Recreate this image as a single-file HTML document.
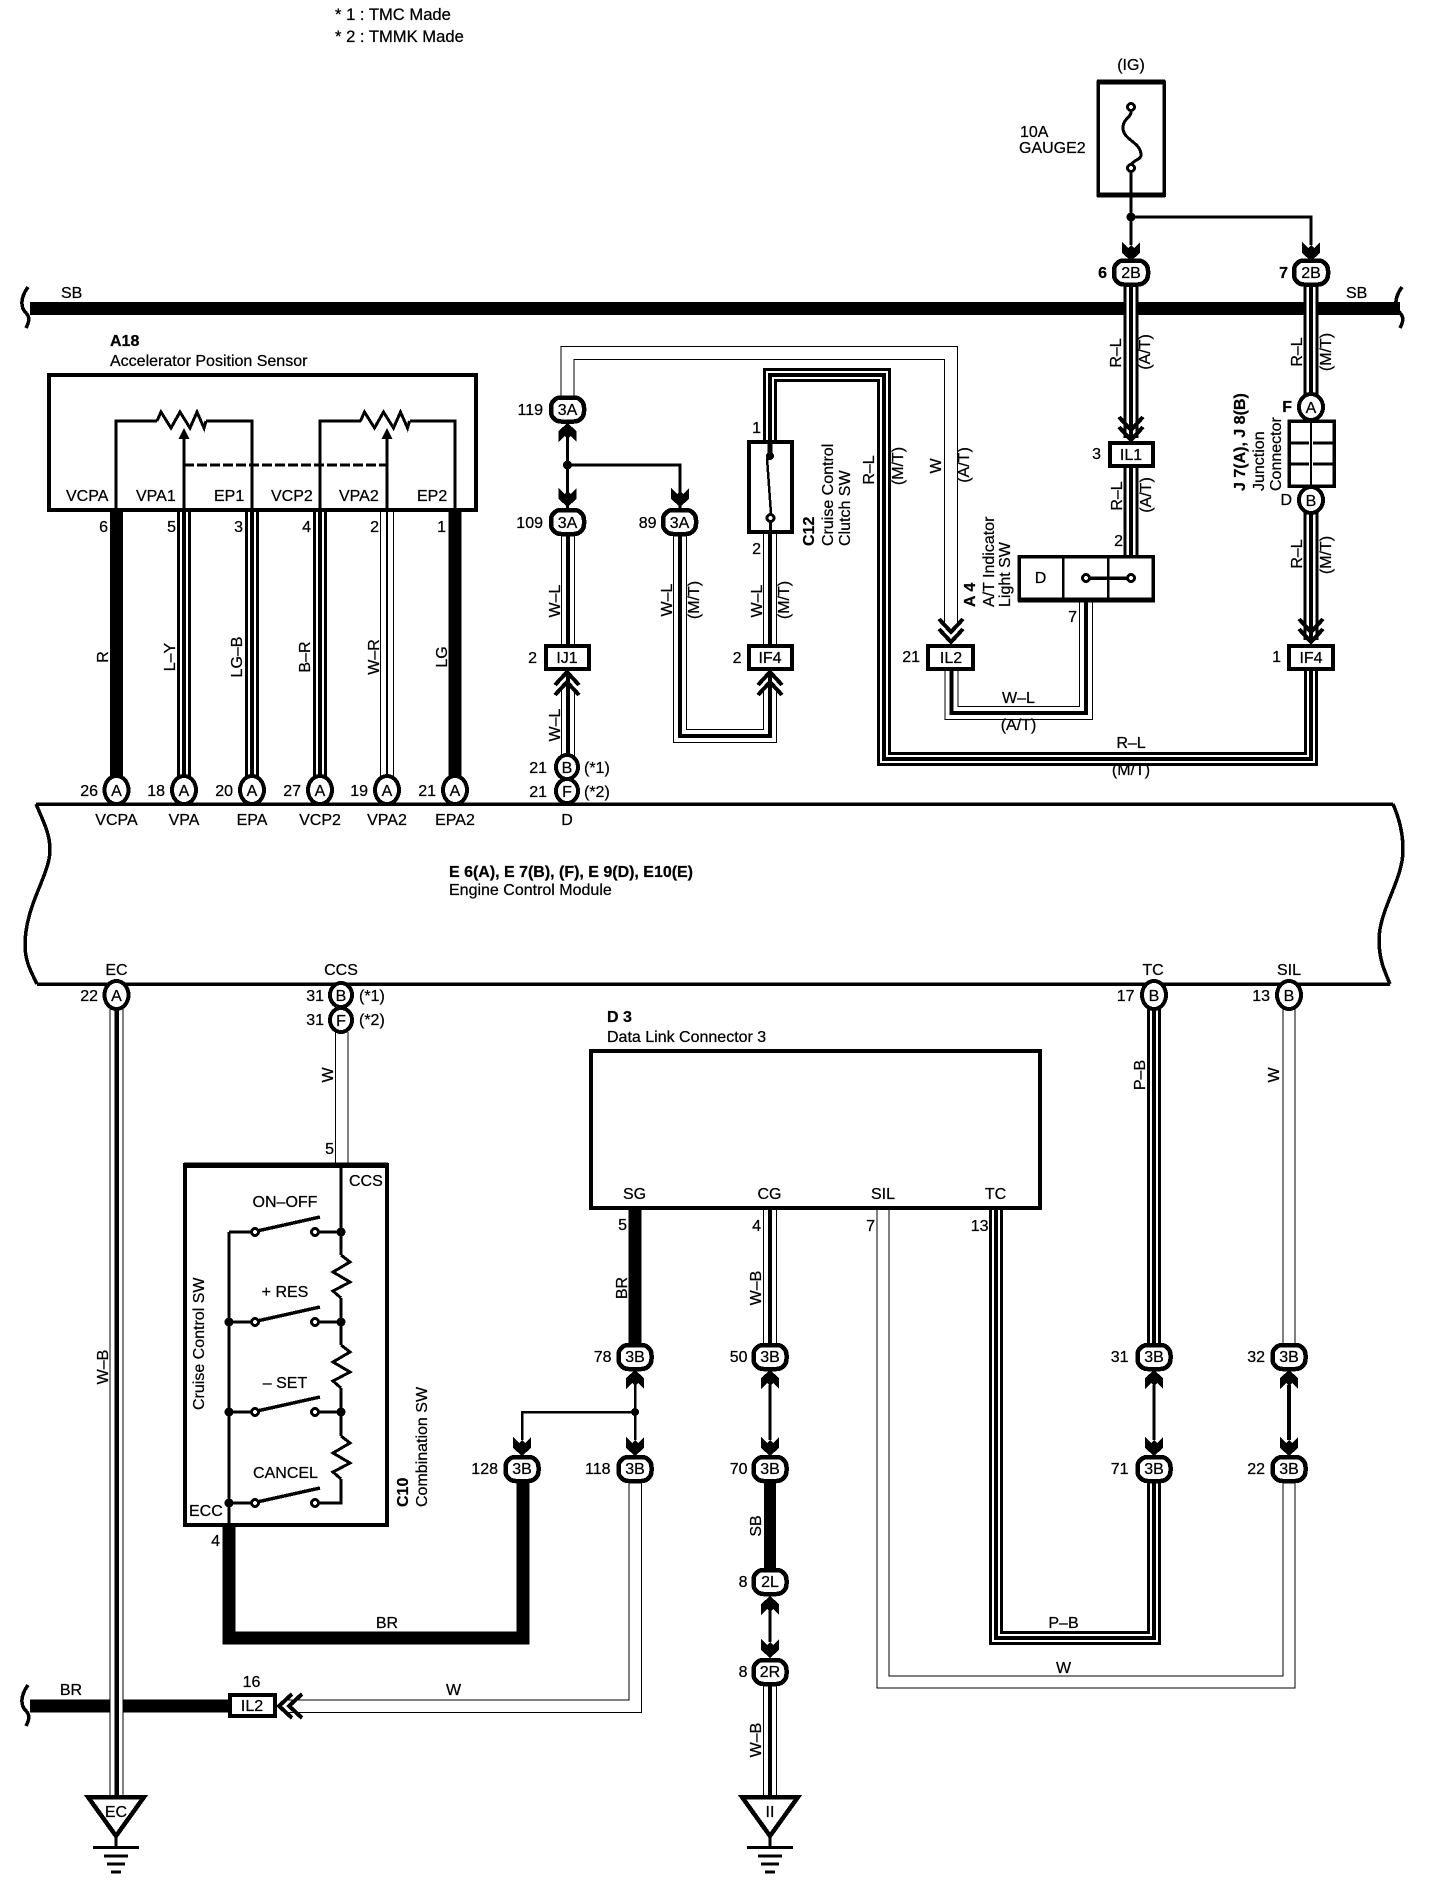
<!DOCTYPE html>
<html><head><meta charset="utf-8"><title>Cruise Control Wiring Diagram</title>
<style>
html,body{margin:0;padding:0;background:#fff;width:1440px;height:1894px;overflow:hidden}
svg{display:block;shape-rendering:crispEdges}
text{font-family:"Liberation Sans",sans-serif;font-size:16px;fill:#000;stroke:#000;stroke-width:.25px}
.b{font-weight:bold}
.c{text-anchor:middle}
.r{text-anchor:end}
.n{font-size:16.6px}
</style></head><body>
<svg xmlns="http://www.w3.org/2000/svg" width="1440" height="1894" viewBox="0 0 1440 1894">
<defs>
<polygon id="aD" points="0,0 -9,-8 -9,-19 -3,-13 0,-16 3,-13 9,-19 9,-8" fill="#000" stroke="none"/>
<polygon id="aU" points="0,0 -9,8 -9,19 -3,13 0,16 3,13 9,19 9,8" fill="#000" stroke="none"/>
<g id="cD" fill="none" stroke="#000" stroke-width="4"><polyline points="-12,-13 0,0 12,-13"/><polyline points="-12,-23 0,-10 12,-23"/></g>
<g id="cU" fill="none" stroke="#000" stroke-width="4"><polyline points="-12,13 0,0 12,13"/><polyline points="-12,23 0,10 12,23"/></g>
<g id="gnd" fill="none" stroke="#000">
<polygon points="-28,-41 28,-41 0,-2" fill="#fff" stroke-width="4.5"/>
<path d="M0,0V9" stroke-width="3"/><path d="M-23,9.5H23" stroke-width="3"/><path d="M-12,18H12" stroke-width="3"/><path d="M-9,26H9" stroke-width="3"/><path d="M-5,34H5" stroke-width="3"/>
</g>
<g id="sw" stroke="#000" fill="none">
<path d="M-26,0H0" stroke-width="3"/><path d="M60,0H86" stroke-width="3"/>
<path d="M2,-1L65,-15" stroke-width="3.5"/>
<circle r="3.5" fill="#fff" stroke-width="3"/><circle cx="60" r="3.5" fill="#fff" stroke-width="3"/>
</g>
<polyline id="zz" points="341,1255 350,1262 333,1272 350,1282 333,1291 341,1298" fill="none" stroke="#000" stroke-width="3"/>
<polyline id="rz" points="157,421 161,412 171,428 180,412 190,428 197,412 204,428 206,421" fill="none" stroke="#000" stroke-width="3"/>
<path id="br" d="M28,287C20,298 20,308 27,314C30,318 29,322 26,328" fill="none" stroke="#000" stroke-width="3.5"/>
</defs>

<!-- harness bars -->
<g fill="none" stroke="#000">
<path d="M30,308.500H1400" stroke-width="13"/>
<path d="M30,1706H230" stroke-width="13"/>
<use href="#br"/><use href="#br" transform="translate(1374,0)"/>
<use href="#br" transform="translate(0,1398)"/>

<!-- ECM -->
<path d="M36,804H1393M37,984H1390" stroke-width="3.500"/>
<path d="M36,804C45,825 50,835 50,850C50,875 25,905 25,945C25,960 30,970 37,984" stroke-width="3.500"/>
<path d="M1393,804C1400,820 1403,835 1403,850C1403,880 1379,910 1379,940C1379,960 1385,972 1390,984" stroke-width="3.500"/>

<!-- A18 wires -->
<path d="M116.500,510V776" stroke-width="13"/>
<path d="M455,510V776" stroke-width="13"/>
<path d="M184,510V776M252,510V776M320,510V776" stroke-width="14"/>
<path d="M184,510V776M252,510V776M320,510V776" stroke="#fff" stroke-width="8"/>
<path d="M184,510V776M252,510V776M320,510V776" stroke-width="4"/>
<path d="M387,510V776" stroke-width="14"/><path d="M387,510V776" stroke="#fff" stroke-width="12"/><path d="M387,510V776" stroke-width="2"/>

<!-- Top white W wire -->
<path d="M567.500,398V353H951V625" stroke-width="14"/><path d="M567.500,398V353H951V625" stroke="#fff" stroke-width="12"/>

<!-- W-L verticals -->
<path d="M568,535V644M568,688V756" stroke-width="14"/><path d="M568,535V644M568,688V756" stroke="#fff" stroke-width="12"/><path d="M568,535V644M568,672V756" stroke-width="4"/>
<path d="M680,535V736H770V688" stroke-width="14"/><path d="M680,535V736H770V688" stroke="#fff" stroke-width="12"/><path d="M680,535V736H770V672" stroke-width="4"/>
<path d="M770,532V646" stroke-width="14"/><path d="M770,532V646" stroke="#fff" stroke-width="12"/><path d="M770,532V646" stroke-width="4"/>
<path d="M951.500,670V713H1086V600" stroke-width="14"/><path d="M951.500,670V713H1086V600" stroke="#fff" stroke-width="12"/><path d="M951.500,670V713H1086V600" stroke-width="4"/>

<!-- R-L wires -->
<path d="M770,442V375H884V759H1311V670" stroke-width="14"/><path d="M770,442V375H884V759H1311V670" stroke="#fff" stroke-width="8"/><path d="M770,442V375H884V759H1311V670" stroke-width="4"/>
<path d="M1131,285V438M1131,467V556M1311,285V395M1311,513V640" stroke-width="15"/><path d="M1131,285V438M1131,467V556M1311,285V395M1311,513V640" stroke="#fff" stroke-width="9"/><path d="M1131,285V438M1131,467V556M1311,285V395M1311,513V640" stroke-width="4"/>

<!-- Fuse branch -->
<path d="M1131,172V245M1131,217H1311V245" stroke-width="3"/>

<!-- stems -->
<path d="M567.500,425V508M567.500,465H680V508" stroke-width="3"/>
<path d="M635,1385V1440M635,1412H522V1440" stroke-width="2.500"/>
<path d="M770,1385V1440M770,1610V1642" stroke-width="3"/>
<path d="M1154,1385V1440" stroke-width="3"/>
<path d="M1289,1385V1440" stroke-width="4"/>

<!-- Lower wires -->
<path d="M116.500,1008V1797" stroke-width="14"/><path d="M116.500,1008V1797" stroke="#fff" stroke-width="12"/><path d="M116.500,1008V1797" stroke-width="4.500"/>
<path d="M341.500,1032V1164" stroke-width="13.500"/><path d="M341.500,1032V1164" stroke="#fff" stroke-width="11.500"/>
<path d="M229,1526V1638H523V1482" stroke-width="13"/>
<path d="M635,1208V1345" stroke-width="13"/>
<path d="M770,1208V1345M770,1684V1797" stroke-width="14"/><path d="M770,1208V1345M770,1684V1797" stroke="#fff" stroke-width="12"/><path d="M770,1208V1345M770,1684V1797" stroke-width="4"/>
<path d="M770,1482V1570" stroke-width="12"/>
<path d="M883,1209V1682H1289V1482" stroke-width="13"/><path d="M883,1209V1682H1289V1482" stroke="#fff" stroke-width="11"/>
<path d="M1289,1008V1345" stroke-width="13"/><path d="M1289,1008V1345" stroke="#fff" stroke-width="11"/>
<path d="M996,1209V1638H1154V1482M1154,1008V1345" stroke-width="14"/><path d="M996,1209V1638H1154V1482M1154,1008V1345" stroke="#fff" stroke-width="8"/><path d="M996,1209V1638H1154V1482M1154,1008V1345" stroke-width="4"/>
<path d="M635,1481V1706H285" stroke-width="13.500"/><path d="M635,1481V1706H285" stroke="#fff" stroke-width="11.500"/>
<!-- W-B crossing the BR bus -->
<path d="M116.500,1680V1740" stroke-width="14"/><path d="M116.500,1680V1740" stroke="#fff" stroke-width="12"/><path d="M116.500,1680V1740" stroke-width="4.500"/>

<!-- A18 box -->
<rect x="49" y="375" width="427" height="135" stroke-width="4"/>
<path d="M116,510V421H157M206,421H252V510M320,510V421H361M410,421H455V510" stroke-width="3"/>
<path d="M184,510V436M387,510V436" stroke-width="3"/>
<use href="#rz"/><use href="#rz" transform="translate(203.500,0)"/>
<polygon points="184,428 178.500,439 189.500,439" fill="#000" stroke="none"/><polygon points="387,428 381.500,439 392.500,439" fill="#000" stroke="none"/>
<path d="M184,465H387" stroke-width="3" stroke-dasharray="10 3"/>

<!-- Fuse -->
<rect x="1098" y="82" width="66" height="113" fill="#fff" stroke-width="3.500"/>
<path d="M1097,82H1165M1097,195H1165" stroke-width="5"/>
<path d="M1131,112C1131,118 1123,118 1123,128C1123,140 1141,142 1141,155C1141,160 1133,160 1131,165" stroke-width="3"/>
<circle cx="1131" cy="107" r="3.500" fill="#fff" stroke-width="3"/><circle cx="1131" cy="168" r="3.500" fill="#fff" stroke-width="3"/>
<path d="M1131,172V197" stroke-width="3"/>

<!-- Clutch SW -->
<rect x="749" y="442" width="43" height="90" fill="#fff" stroke-width="4"/>
<path d="M770,442V454" stroke-width="5"/>
<circle cx="770" cy="456" r="4" fill="#000" stroke="none"/>
<path d="M767,458L771,514" stroke-width="2.500"/>
<circle cx="770.500" cy="518" r="3.500" fill="#fff" stroke-width="3"/>
<path d="M770.500,522V532" stroke-width="3"/>

<!-- A/T switch -->
<rect x="1019" y="556.500" width="134" height="43" fill="#fff" stroke-width="3.500"/>
<path d="M1018,600H1155" stroke-width="5"/>
<path d="M1063,557V598M1108,557V598" stroke-width="2.500"/>
<path d="M1086,578H1131" stroke-width="3.500"/>
<circle cx="1086" cy="578" r="3.500" fill="#fff" stroke-width="3"/><circle cx="1131" cy="578" r="3.500" fill="#fff" stroke-width="3"/>

<!-- Small boxes -->
<g fill="#fff" stroke-width="4">
<rect x="546" y="646" width="43" height="23"/>
<rect x="749" y="646" width="43" height="23"/>
<rect x="928" y="646" width="45" height="23"/>
<rect x="1289" y="646" width="44" height="23"/>
<rect x="1110" y="443" width="43" height="23"/>
<rect x="230" y="1695" width="45" height="21"/>
<rect x="1289" y="421" width="45" height="65" stroke-width="3.500"/>
</g>
<path d="M1311,421V486" stroke-width="2"/>
<path d="M1289,443H1309M1313,443H1334M1289,464H1309M1313,464H1334" stroke-width="3"/>

<!-- Combination SW box -->
<rect x="185" y="1165" width="202" height="360" fill="#fff" stroke-width="4"/>
<path d="M184,1165H388" stroke-width="5.500"/>
<path d="M341,1165V1255M341,1298V1345M341,1388V1436M341,1479V1503H315M229,1232V1526" stroke-width="3"/>
<use href="#zz"/><use href="#zz" transform="translate(0,90)"/><use href="#zz" transform="translate(0,181)"/>
<use href="#sw" transform="translate(255,1232)"/>
<use href="#sw" transform="translate(255,1322)"/>
<use href="#sw" transform="translate(255,1412)"/>
<use href="#sw" transform="translate(255,1503)"/>
<g fill="#000" stroke="none">
<circle cx="341" cy="1232" r="4.500"/><circle cx="341" cy="1322" r="4.500"/><circle cx="341" cy="1412" r="4.500"/>
<circle cx="229" cy="1322" r="4.500"/><circle cx="229" cy="1412" r="4.500"/><circle cx="229" cy="1503" r="4.500"/>
<circle cx="567.500" cy="465" r="4.500"/><circle cx="1131" cy="217" r="4.500"/><circle cx="635" cy="1412" r="4"/>
</g>

<!-- D3 box -->
<rect x="591" y="1051" width="449" height="157" fill="#fff" stroke-width="4"/>

<!-- grounds -->
<use href="#gnd" transform="translate(116,1838)"/>
<use href="#gnd" transform="translate(770,1838)"/>

<!-- Arrowheads -->
<use href="#aD" transform="translate(1131,261)"/><use href="#aD" transform="translate(1311,261)"/>
<use href="#aU" transform="translate(567.500,423)"/>
<use href="#aD" transform="translate(567.500,507)"/><use href="#aD" transform="translate(680,507)"/>
<use href="#aU" transform="translate(635,1370)"/><use href="#aU" transform="translate(770,1370)"/><use href="#aU" transform="translate(1154,1370)"/><use href="#aU" transform="translate(1289,1370)"/>
<use href="#aD" transform="translate(522,1456)"/><use href="#aD" transform="translate(635,1456)"/><use href="#aD" transform="translate(770,1456)"/><use href="#aD" transform="translate(1154,1456)"/><use href="#aD" transform="translate(1289,1456)"/>
<use href="#aU" transform="translate(770,1596)"/><use href="#aD" transform="translate(770,1658)"/>
<use href="#cD" transform="translate(1131,440)"/><use href="#cD" transform="translate(951,642)"/><use href="#cD" transform="translate(1311,642)"/>
<use href="#cU" transform="translate(567,672)"/><use href="#cU" transform="translate(770,672)"/>
<use href="#cU" transform="translate(279,1706) rotate(-90)"/>

<!-- circular connectors -->
<g fill="#fff" stroke-width="4">
<ellipse cx="116.500" cy="790" rx="12" ry="14"/><ellipse cx="184" cy="790" rx="12" ry="14"/><ellipse cx="252" cy="790" rx="12" ry="14"/><ellipse cx="320" cy="790" rx="12" ry="14"/><ellipse cx="387" cy="790" rx="12" ry="14"/><ellipse cx="455" cy="790" rx="12" ry="14"/>
<ellipse cx="567" cy="767" rx="11" ry="12"/><ellipse cx="567" cy="791" rx="11" ry="12"/>
<ellipse cx="116.500" cy="995" rx="12" ry="14"/><ellipse cx="341" cy="995" rx="11" ry="12"/><ellipse cx="341" cy="1020" rx="11" ry="12"/>
<ellipse cx="1154" cy="995" rx="12" ry="14"/><ellipse cx="1289" cy="995" rx="12" ry="14"/>
<ellipse cx="1311" cy="407" rx="12" ry="13"/><ellipse cx="1311" cy="500" rx="12" ry="13"/>
</g>
<!-- stadium connectors -->
<g fill="#fff" stroke-width="4.500">
<rect x="1114" y="260.500" width="34" height="24" rx="10"/><rect x="1294" y="260.500" width="34" height="24" rx="10"/>
<rect x="551" y="397.500" width="33" height="24" rx="10"/><rect x="551" y="510" width="33" height="24" rx="10"/><rect x="663" y="510" width="33" height="24" rx="10"/>
<rect x="618.500" y="1345" width="33" height="24" rx="10"/><rect x="753.500" y="1345" width="33" height="24" rx="10"/><rect x="1137.500" y="1345" width="33" height="24" rx="10"/><rect x="1272.500" y="1345" width="33" height="24" rx="10"/>
<rect x="505.500" y="1457" width="33" height="24" rx="10"/><rect x="618.500" y="1457" width="33" height="24" rx="10"/><rect x="753.500" y="1457" width="33" height="24" rx="10"/><rect x="1137.500" y="1457" width="33" height="24" rx="10"/><rect x="1272.500" y="1457" width="33" height="24" rx="10"/>
<rect x="753.500" y="1570" width="33" height="24" rx="10"/><rect x="753.500" y="1660" width="33" height="24" rx="10"/>
</g>
</g>

<!-- TEXT -->
<text x="335" y="20" class="n">* 1 : TMC Made</text>
<text x="335" y="42" class="n">* 2 : TMMK Made</text>
<text x="61" y="298">SB</text><text x="1346" y="298">SB</text>
<text x="110" y="346" class="b">A18</text>
<text x="110" y="366">Accelerator Position Sensor</text>
<text x="1131" y="70" class="c">(IG)</text>
<text x="1020" y="137">10A</text><text x="1019" y="153">GAUGE2</text>

<text x="66" y="501">VCPA</text><text x="136" y="501">VPA1</text><text x="214" y="501">EP1</text><text x="271" y="501">VCP2</text><text x="339" y="501">VPA2</text><text x="417" y="501">EP2</text>
<g class="r">
<text x="108" y="532">6</text><text x="176" y="532">5</text><text x="243" y="532">3</text><text x="311" y="532">4</text><text x="379" y="532">2</text><text x="446" y="532">1</text>
<text x="98" y="796">26</text><text x="165" y="796">18</text><text x="233" y="796">20</text><text x="301" y="796">27</text><text x="368" y="796">19</text><text x="436" y="796">21</text>
<text x="547" y="773">21</text><text x="547" y="797">21</text>
<text x="543" y="415">119</text><text x="543" y="528">109</text><text x="656.500" y="528">89</text>
<text x="537" y="663">2</text><text x="741.500" y="663">2</text><text x="920" y="662">21</text><text x="1281" y="662">1</text>
<text x="761" y="433">1</text><text x="761" y="554">2</text>
<text x="1101" y="459">3</text><text x="1123" y="546">2</text><text x="1077" y="622">7</text>
<text x="1107" y="278" class="b">6</text><text x="1288" y="278" class="b">7</text>
<text x="1292" y="412" class="b">F</text><text x="1292" y="505">D</text>
<text x="98" y="1001">22</text><text x="324" y="1001">31</text><text x="324" y="1025">31</text>
<text x="1134.500" y="1001">17</text><text x="1270" y="1001">13</text>
<text x="334" y="1154">5</text>
<text x="627" y="1230">5</text><text x="761" y="1231">4</text><text x="875" y="1231">7</text><text x="988.500" y="1231">13</text>
<text x="611.500" y="1362">78</text><text x="747.500" y="1362">50</text><text x="1128.500" y="1362">31</text><text x="1265" y="1362">32</text>
<text x="498" y="1474">128</text><text x="610.500" y="1474">118</text><text x="747.500" y="1474">70</text><text x="1128.500" y="1474">71</text><text x="1265" y="1474">22</text>
<text x="747.500" y="1587">8</text><text x="747.500" y="1677">8</text>
<text x="220" y="1546">4</text>
</g>
<g class="c">
<text x="116.500" y="796">A</text><text x="184" y="796">A</text><text x="252" y="796">A</text><text x="320" y="796">A</text><text x="387" y="796">A</text><text x="455" y="796">A</text>
<text x="567" y="773">B</text><text x="567" y="797">F</text>
<text x="116.500" y="825">VCPA</text><text x="184" y="825">VPA</text><text x="252" y="825">EPA</text><text x="320" y="825">VCP2</text><text x="387" y="825">VPA2</text><text x="455" y="825">EPA2</text><text x="567" y="825">D</text>
<text x="1131" y="278">2B</text><text x="1311" y="278">2B</text>
<text x="567.500" y="415">3A</text><text x="567.500" y="528">3A</text><text x="679.500" y="528">3A</text>
<text x="567" y="663">IJ1</text><text x="770" y="663">IF4</text><text x="951" y="663">IL2</text><text x="1311" y="663">IF4</text><text x="1131" y="460">IL1</text>
<text x="1311" y="413">A</text><text x="1311" y="506">B</text>
<text x="1040.500" y="583">D</text>
<text x="1018.500" y="703">W–L</text><text x="1018.500" y="730">(A/T)</text>
<text x="1131" y="748">R–L</text><text x="1131" y="775">(M/T)</text>
<text x="116.500" y="975">EC</text><text x="341" y="975">CCS</text><text x="1153" y="975">TC</text><text x="1289" y="975">SIL</text>
<text x="116.500" y="1001">A</text><text x="341" y="1001">B</text><text x="341" y="1026">F</text><text x="1154" y="1001">B</text><text x="1289" y="1001">B</text>
<text x="285" y="1207">ON–OFF</text><text x="285" y="1297">+ RES</text><text x="285" y="1388">– SET</text><text x="285.500" y="1478">CANCEL</text>
<text x="634.500" y="1199">SG</text><text x="769.500" y="1199">CG</text><text x="883" y="1199">SIL</text><text x="995.500" y="1199">TC</text>
<text x="635" y="1362">3B</text><text x="770" y="1362">3B</text><text x="1154" y="1362">3B</text><text x="1289" y="1362">3B</text>
<text x="522" y="1474">3B</text><text x="635" y="1474">3B</text><text x="770" y="1474">3B</text><text x="1154" y="1474">3B</text><text x="1289" y="1474">3B</text>
<text x="770" y="1587">2L</text><text x="770" y="1677">2R</text>
<text x="387" y="1628">BR</text><text x="1063.500" y="1628">P–B</text><text x="1063.500" y="1673">W</text>
<text x="71" y="1695">BR</text><text x="453.500" y="1695">W</text><text x="251.500" y="1687">16</text><text x="252" y="1711">IL2</text>
<text x="116" y="1817">EC</text><text x="770" y="1817">II</text>
</g>
<text x="584" y="773">(*1)</text><text x="584" y="797">(*2)</text>
<text x="359" y="1001">(*1)</text><text x="359" y="1025">(*2)</text>
<text x="349" y="1186">CCS</text><text x="189" y="1516">ECC</text>
<text x="449" y="877" class="b" textLength="244" lengthAdjust="spacingAndGlyphs">E 6(A), E 7(B), (F), E 9(D), E10(E)</text>
<text x="449" y="895">Engine Control Module</text>
<text x="607" y="1022" class="b">D 3</text>
<text x="607" y="1042">Data Link Connector 3</text>

<!-- rotated labels (middle) -->
<g class="c">
<text transform="translate(108,657) rotate(-90)">R</text>
<text transform="translate(175,657) rotate(-90)">L–Y</text>
<text transform="translate(242,657) rotate(-90)">LG–B</text>
<text transform="translate(310,657) rotate(-90)">B–R</text>
<text transform="translate(379,657) rotate(-90)">W–R</text>
<text transform="translate(447,657) rotate(-90)">LG</text>
<text transform="translate(560,601) rotate(-90)">W–L</text>
<text transform="translate(560,725) rotate(-90)">W–L</text>
<text transform="translate(672,600) rotate(-90)">W–L</text>
<text transform="translate(699,600) rotate(-90)">(M/T)</text>
<text transform="translate(762,601) rotate(-90)">W–L</text>
<text transform="translate(789,600) rotate(-90)">(M/T)</text>
<text transform="translate(874,470) rotate(-90)">R–L</text>
<text transform="translate(903,466) rotate(-90)">(M/T)</text>
<text transform="translate(941,466) rotate(-90)">W</text>
<text transform="translate(969,465) rotate(-90)">(A/T)</text>
<text transform="translate(1121,353) rotate(-90)">R–L</text>
<text transform="translate(1150,352) rotate(-90)">(A/T)</text>
<text transform="translate(1122,496) rotate(-90)">R–L</text>
<text transform="translate(1151,495) rotate(-90)">(A/T)</text>
<text transform="translate(1302,352) rotate(-90)">R–L</text>
<text transform="translate(1331,352) rotate(-90)">(M/T)</text>
<text transform="translate(1302,554) rotate(-90)">R–L</text>
<text transform="translate(1331,555) rotate(-90)">(M/T)</text>
<text transform="translate(108,1367) rotate(-90)">W–B</text>
<text transform="translate(333,1075) rotate(-90)">W</text>
<text transform="translate(627,1288) rotate(-90)">BR</text>
<text transform="translate(761,1288) rotate(-90)">W–B</text>
<text transform="translate(761,1526) rotate(-90)">SB</text>
<text transform="translate(761,1740) rotate(-90)">W–B</text>
<text transform="translate(1145,1075) rotate(-90)">P–B</text>
<text transform="translate(1279,1075) rotate(-90)">W</text>
</g>
<!-- rotated labels (start) -->
<text transform="translate(814,546) rotate(-90)" class="b">C12</text>
<text transform="translate(833,546) rotate(-90)">Cruise Control</text>
<text transform="translate(850,546) rotate(-90)">Clutch SW</text>
<text transform="translate(975,607) rotate(-90)" class="b">A 4</text>
<text transform="translate(994,607) rotate(-90)">A/T Indicator</text>
<text transform="translate(1010,607) rotate(-90)">Light SW</text>
<text transform="translate(1245,491) rotate(-90)" class="b">J 7(A), J 8(B)</text>
<text transform="translate(1264,491) rotate(-90)">Junction</text>
<text transform="translate(1281,491) rotate(-90)">Connector</text>
<text transform="translate(204,1410) rotate(-90)">Cruise Control SW</text>
<text transform="translate(408,1507) rotate(-90)" class="b">C10</text>
<text transform="translate(427,1507) rotate(-90)">Combination SW</text>
</svg>
</body></html>
